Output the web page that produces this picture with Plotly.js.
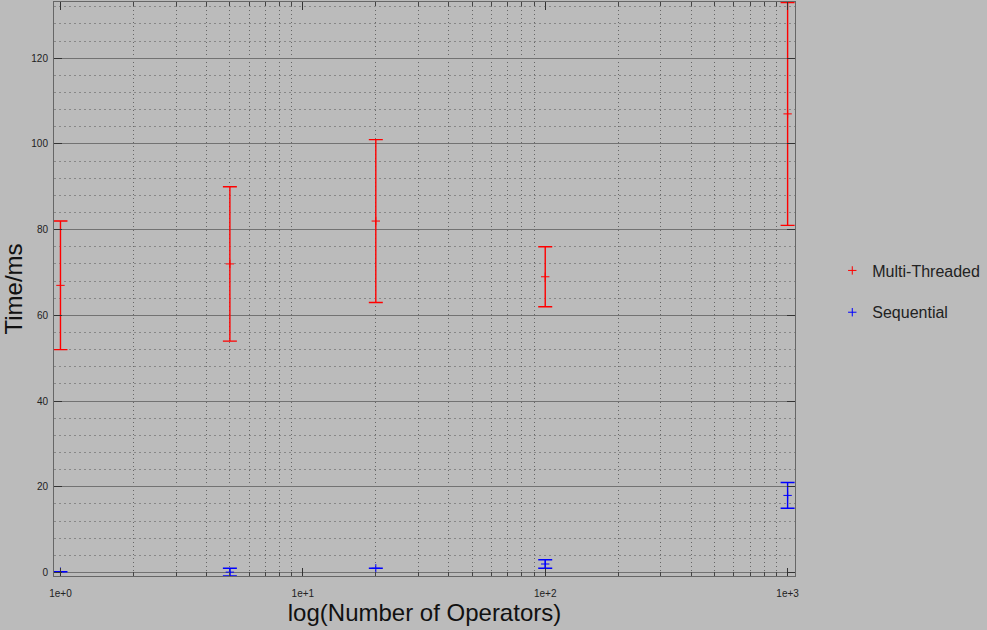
<!DOCTYPE html>
<html><head><meta charset="utf-8">
<script src="https://cdn.plot.ly/plotly-3.0.1.min.js"></script>
<style>html,body{margin:0;padding:0;background:#bbbbbb}#chart{width:987px;height:630px}</style>
</head><body><div id="chart"></div>
<script>
// Data
const operators = [1, 5, 20, 100, 1000];
const mtMean = [67, 72, 82, 69, 107];
const mtLow  = [52, 54, 63, 62, 81];
const mtHigh = [82, 90, 101, 76, 133];
const seqMean = [0.2, 0.1, 1.0, 2.0, 18];
const seqLow  = [0.2, -0.8, 1.0, 1.0, 15];
const seqHigh = [0.2, 1.0, 1.0, 3.0, 21];
const xTickVals = [1, 10, 100, 1000];
const xTickText = ['1e+0', '1e+1', '1e+2', '1e+3'];
const xMinorVals = [];
[1, 10, 100].forEach(d => { for (let k = 2; k <= 9; k++) xMinorVals.push(k * d); });

const FONT = 'Liberation Sans, Arial, Helvetica, sans-serif';

function mkTrace(name, mean, lo, hi, color) {
  return {
    type: 'scatter', mode: 'markers', name: name, legendgroup: name,
    x: operators, y: mean, cliponaxis: false,
    marker: {symbol: 'cross-thin-open', size: 6, color: color, line: {width: 1, color: color}},
    error_y: {
      type: 'data', symmetric: false,
      array: hi.map((h, i) => h - mean[i]),
      arrayminus: lo.map((l, i) => mean[i] - l),
      color: color, thickness: 1.4, width: 7
    }
  };
}

const data = [
  mkTrace('Multi-Threaded', mtMean, mtLow, mtHigh, '#ff0000'),
  mkTrace('Sequential', seqMean, seqLow, seqHigh, '#0000ff')
];

const layout = {
  width: 987, height: 630,
  margin: {l: 54, r: 190, t: 2, b: 54},
  paper_bgcolor: '#bbbbbb', plot_bgcolor: '#bbbbbb',
  font: {family: FONT, color: '#222'},
  showlegend: true,
  xaxis: {
    type: 'log', range: [-0.0267, 3.0305],
    tickmode: 'array', tickvals: xTickVals, ticktext: xTickText,
    ticks: 'inside', ticklen: 8, tickcolor: '#333', tickwidth: 1,
    ticklabelstandoff: 8,
    showgrid: false, zeroline: false,
    showline: true, linecolor: '#666', linewidth: 1, mirror: 'ticks',
    tickfont: {size: 10, color: '#222'},
    minor: {tickmode: 'array', tickvals: xMinorVals, ticks: 'inside', ticklen: 4,
            tickcolor: '#444', showgrid: true, gridcolor: '#666', griddash: '1px,3px', gridwidth: 1},
    title: {text: 'log(Number of Operators)', font: {size: 24, color: '#111'}, standoff: 0}
  },
  yaxis: {
    range: [-0.8, 133.1], tick0: 0, dtick: 20,
    ticks: 'inside', ticklen: 8, tickcolor: '#333', tickwidth: 1,
    ticklabelstandoff: 3,
    showgrid: true, gridcolor: '#727272', gridwidth: 1, zeroline: false,
    showline: true, linecolor: '#666', linewidth: 1, mirror: 'ticks',
    tickfont: {size: 10, color: '#222'},
    minor: {dtick: 4, showgrid: true, gridcolor: '#888', griddash: '2px,3px', gridwidth: 1, ticks: ''},
    title: {text: 'Time/ms', font: {size: 24, color: '#111'}, standoff: 2}
  },
  legend: {
    x: 1.0503, xanchor: 'left', y: 0.4956, yanchor: 'middle',
    bgcolor: 'rgba(0,0,0,0)', borderwidth: 0,
    font: {size: 16, color: '#222', family: FONT},
    traceorder: 'grouped', tracegroupgap: 18
  }
};

Plotly.newPlot('chart', data, layout, {displayModeBar: false, staticPlot: true});
</script>
</body></html>
